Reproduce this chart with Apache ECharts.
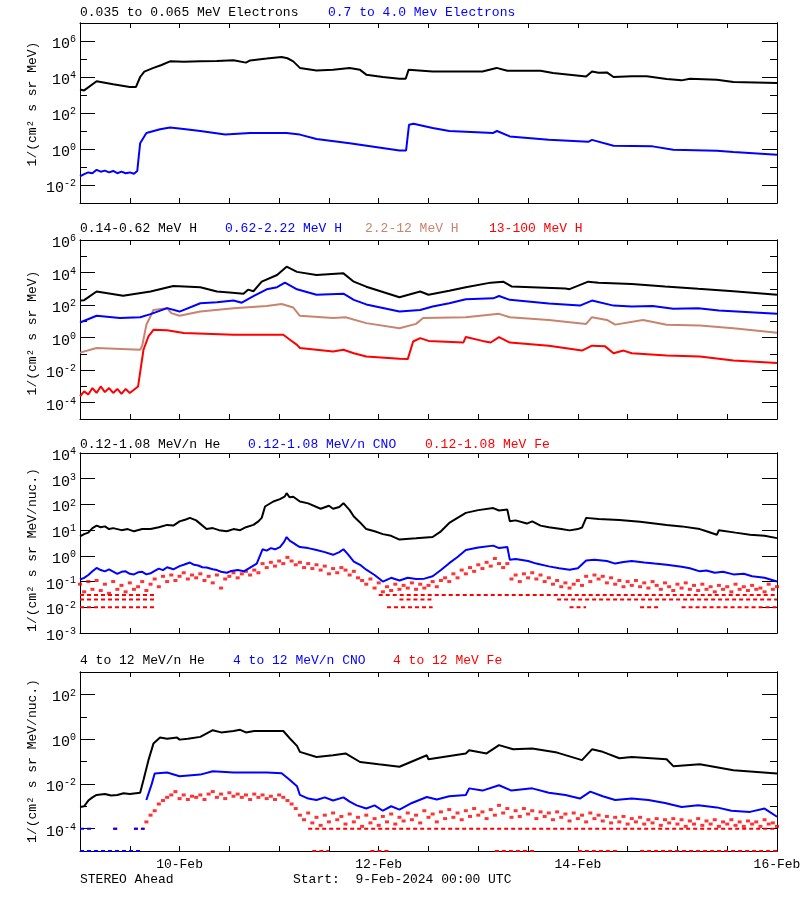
<!DOCTYPE html>
<html><head><meta charset="utf-8">
<script src="https://cdn.jsdelivr.net/npm/echarts@6/dist/echarts.min.js"></script>
<style>html,body{margin:0;padding:0;background:#fff}#c{width:800px;height:900px}</style>
</head><body><div id="c"></div>
<script>
// ---- tick labels (x in hours since 9-Feb-2024 00:00 UTC) ----
const dayTickHours = [24, 72, 120, 168];
const dayTickLabels = ['10-Feb', '12-Feb', '14-Feb', '16-Feb'];

// ---- Panel 1: electrons [hour, flux] ----
const elecLow = [[0,2.0e3],[1,1.8e3],[4,5.8e3],[8,4.0e3],[12,2.8e3],[13.5,2.8e3],[14.5,1.0e4],[15.5,2.0e4],[17.7,3.2e4],[19.5,4.5e4],[21.7,7.4e4],[25,7.0e4],[29,7.4e4],[33,7.8e4],[37,8.5e4],[40,6.3e4],[41,8.3e4],[45,1.05e5],[48.6,1.3e5],[50,1.1e5],[51.4,7.4e4],[53,3.2e4],[57,2.3e4],[61,2.5e4],[65,3.2e4],[67.5,2.5e4],[69,1.35e4],[73,1.0e4],[77,8.0e3],[78.5,8.0e3],[79.2,2.5e4],[85,2.0e4],[97,2.0e4],[100.4,3.2e4],[103,2.2e4],[111,2.2e4],[114,1.66e4],[122,1.07e4],[123.4,2.0e4],[125,1.7e4],[127,1.8e4],[128.6,1.0e4],[133,1.1e4],[136.6,1.1e4],[141.4,7.8e3],[145,6.5e3],[147,8.0e3],[153.5,7.1e3],[157.5,5.2e3],[168,4.7e3]];
const elecHigh = [[0,0.03],[1,0.04],[2,0.05],[3,0.045],[4,0.07],[5,0.055],[6,0.063],[7,0.05],[8,0.06],[9,0.045],[10,0.055],[11,0.045],[12,0.05],[13,0.042],[13.8,0.06],[14.5,2.1],[16,7.8],[19.3,12.6],[21.7,15.8],[25,13],[29,10],[35,6.3],[41,7.8],[49.8,7.8],[53,6.3],[57,3.6],[65,2.1],[77,0.83],[78.6,0.83],[79.3,22],[80.4,25],[85,14.8],[89,10],[99.6,7.8],[100.5,10],[103.6,5.0],[113,3.3],[122.5,2.5],[123.4,3.2],[128.6,1.5],[138,1.4],[143,0.91],[153.5,0.8],[157.5,0.68],[168,0.48]];

// ---- Panel 2: protons ----
const hLow = [[0,190],[1,200],[4,680],[10.4,380],[17,680],[22.5,1.5e3],[29,1.26e3],[33,680],[36,600],[39.4,500],[40.5,890],[41.8,710],[43.8,2.75e3],[47.5,7.1e3],[49.8,2.3e4],[52.3,1.1e4],[57,7.1e3],[63.5,8.9e3],[66,2.75e3],[69,1.35e3],[77,300],[82,680],[84,430],[89,760],[93,1.26e3],[99,2.4e3],[102,2.75e3],[104,1.4e3],[117,1.05e3],[118,950],[122.5,2.75e3],[125,2.4e3],[133,2.0e3],[141,1.4e3],[149,1.0e3],[157.5,720],[168,430]];
const hMid = [[0,8.5],[4,22],[9.6,16],[14.5,18],[17,28],[21,65],[24,40],[29,130],[33,150],[37,190],[39,140],[41.8,360],[45,930],[47.5,1.26e3],[49.4,2.4e3],[52.3,930],[57,430],[63.5,500],[66,210],[69,110],[77,40],[82,50],[85,81],[89,130],[93,230],[99.6,260],[101,360],[103.6,210],[113,126],[120.5,93],[123.4,190],[128.6,93],[133,81],[138,89],[143,59],[149,63],[154,46],[168,29]];
const hHigh = [[0,0.12],[4,0.23],[14.5,0.18],[15,0.32],[16,6.2],[17.7,50],[21,65],[22,32],[24,22],[29,40],[37,65],[45,89],[48.6,117],[51.4,71],[53,22],[61,16],[64,18],[69,7.8],[77,3.8],[81,7],[82.7,16],[93,18],[101,29],[103.6,18],[113,12.3],[122,7],[123.4,18],[127,12.3],[129,6.3],[135.7,12.3],[141.4,6.2],[149.4,5.6],[157.5,3.8],[168,2.0]];
const hTop = [[0,2.5e-4],[1,5e-4],[2,3.2e-4],[3,8e-4],[4,4e-4],[5,1e-3],[6,4.5e-4],[7,8e-4],[8,4e-4],[9,7e-4],[10,3.5e-4],[11,7e-4],[12,4e-4],[13,6.3e-4],[14,1e-3],[15.3,0.18],[16.5,1.2],[17.7,3.0],[21,2.8],[25,1.9],[37,1.5],[45,1.5],[49,1.5],[50.6,0.74],[52.3,0.36],[53,0.23],[61,0.14],[63.5,0.18],[66,0.11],[69,0.069],[77,0.05],[79,0.048],[80.3,0.58],[82,0.93],[84,0.63],[92.4,0.5],[93,1.1],[97,0.63],[99,0.5],[101,1.07],[103.6,0.5],[113,0.32],[121,0.16],[123.4,0.32],[126.5,0.3],[128.6,0.11],[131,0.16],[133,0.11],[141.4,0.08],[149.4,0.07],[157.5,0.04],[168,0.028]];

// ---- Panel 3: 0.12-1.08 MeV/n ions ----
const lowHe = [[0,5.7],[1,7],[2,8],[3,12],[4,15],[5,13],[6,14],[7,11],[8,12],[10,10],[11.5,11],[13,9],[15,11],[17,11],[19,13],[21,16],[22.5,15],[24,22],[25.5,26],[26.5,30],[28,24],[30.5,11],[32,12],[33.5,10],[35.4,9],[37,11],[38.6,10],[40,13],[41.8,16],[43,22],[43.8,30],[44.6,83],[46.6,130],[48.2,160],[49.3,200],[49.8,275],[50.5,190],[51.4,200],[53,130],[55,110],[58,68],[60,89],[61,68],[62.5,80],[63.5,112],[65,60],[66,34],[67.5,20],[69,11],[71,9],[73,7],[75,6],[77,4.3],[81,4.8],[85,5.4],[87,9],[89,19],[91,30],[93,47],[96,60],[99.6,72],[101,58],[103,63],[103.6,22],[105,24],[107.7,18],[109,22],[111,15],[113,13],[116,11],[118,9.8],[120,11],[121,12.6],[122,30],[125,27],[130,25],[135,21],[141.4,16],[145,14],[149.4,11],[151,9],[153.5,6.6],[154,10],[158,8],[161.5,6.6],[165,6],[168,4.9]];
const lowCNO = [[0,0.12],[1,0.14],[2,0.18],[3,0.25],[4,0.34],[5,0.28],[6,0.25],[7,0.3],[9,0.2],[10,0.24],[11,0.25],[12,0.2],[13,0.19],[14,0.23],[15,0.24],[16,0.19],[17,0.21],[18,0.26],[19,0.32],[20,0.28],[21,0.36],[22.5,0.3],[24,0.4],[25,0.45],[26.5,0.55],[27.5,0.45],[28.5,0.42],[29.5,0.36],[30.5,0.35],[32,0.3],[33,0.28],[34,0.24],[35.4,0.22],[36.5,0.26],[38,0.28],[39.5,0.25],[41,0.35],[42.6,0.5],[44,1.8],[45,1.6],[46,2.0],[47,1.8],[48.2,2.2],[49.2,3.5],[49.8,5.4],[50.6,3.8],[51.4,3.2],[52.2,2.6],[53,2.2],[55,2.0],[57,1.7],[59,1.4],[61,1.1],[62.5,1.4],[63.5,1.8],[64.5,1.2],[66,0.6],[67.5,0.45],[69,0.29],[71,0.18],[73,0.1],[75,0.14],[77,0.11],[79,0.14],[81,0.126],[83,0.13],[85,0.16],[87,0.28],[89,0.52],[91,0.9],[93,1.7],[96,2.1],[99.6,2.5],[101,2.0],[103,2.2],[103.6,0.7],[105,0.75],[108,0.63],[110,0.5],[113,0.39],[115.5,0.33],[118,0.29],[120,0.33],[122,0.66],[124,0.7],[127,0.63],[129,0.5],[131,0.58],[133,0.63],[136,0.55],[138.5,0.5],[141.4,0.45],[145,0.38],[147,0.33],[149.4,0.25],[151,0.27],[153,0.22],[155,0.24],[157.5,0.19],[160,0.2],[162,0.16],[165,0.14],[168,0.1]];
// hourly Fe values, hour 0..168
const lowFe = [0.079,0.04,0.1,0.05,0.11,0.045,0.079,0.035,0.1,0.05,0.071,0.04,0.089,0.05,0.063,0.1,0.045,0.079,0.126,0.063,
0.16,0.1,0.18,0.11,0.16,0.22,0.126,0.18,0.14,0.2,0.11,0.16,0.089,0.18,0.056,0.126,0.16,0.22,0.14,0.2,
0.25,0.18,0.28,0.22,0.5,0.35,0.56,0.4,0.63,0.5,0.87,0.63,0.45,0.56,0.35,0.5,0.32,0.45,0.28,0.4,
0.2,0.32,0.22,0.35,0.28,0.18,0.25,0.14,0.11,0.079,0.126,0.056,0.089,0.04,0.063,0.045,0.079,0.05,0.071,0.056,
0.089,0.05,0.079,0.056,0.071,0.1,0.063,0.11,0.14,0.1,0.2,0.14,0.28,0.2,0.35,0.25,0.45,0.32,0.56,0.4,
0.79,0.5,0.35,0.5,0.126,0.18,0.1,0.2,0.14,0.22,0.126,0.18,0.1,0.14,0.079,0.11,0.063,0.089,0.056,0.079,
0.11,0.071,0.16,0.1,0.18,0.126,0.16,0.089,0.14,0.079,0.11,0.063,0.1,0.071,0.11,0.063,0.089,0.056,0.1,0.071,
0.05,0.089,0.063,0.045,0.079,0.056,0.089,0.05,0.071,0.045,0.079,0.05,0.063,0.04,0.071,0.05,0.063,0.04,0.079,0.05,
0.063,0.045,0.071,0.05,0.056,0.04,0.079,0.05,0.063];
// quantised low-count levels [fromHour, toHour, flux]
const lowFeFloor = [[0,18.5,0.03],[72,168,0.03],[0,18,0.02],[77,85,0.02],[115,168,0.02],[0,18,0.01],[74,85,0.01],[118,122,0.01],[135,140,0.01],[145,168,0.01]];

// ---- Panel 4: 4-12 MeV/n ions ----
const hiHe = [[0,9.3e-4],[1,1e-3],[2,1.8e-3],[3,2.5e-3],[4,3.2e-3],[6,3.5e-3],[7.5,3.0e-3],[9,3.2e-3],[10.5,3.8e-3],[12,3.5e-3],[14.5,4e-3],[15.3,0.015],[16.5,0.115],[17.7,0.63],[19.3,1.17],[21,1.05],[23.4,1.17],[24,0.95],[26,1.05],[29,1.26],[32,2.5],[34,2.0],[37,2.3],[38.6,2.6],[40,2.0],[42,2.3],[45,2.3],[49,2.3],[50.6,1.07],[52.3,0.5],[53,0.27],[57,0.16],[61,0.19],[64,0.23],[67.5,0.095],[72,0.075],[77,0.058],[83.6,0.19],[84,0.126],[93,0.23],[93.8,0.32],[98,0.23],[101,0.54],[104.4,0.35],[109,0.38],[115,0.25],[121,0.115],[123.4,0.35],[126,0.27],[130,0.14],[133,0.16],[141.4,0.126],[143,0.062],[149.4,0.076],[157.5,0.041],[168,0.029]];
const hiCNO = [[16,1.9e-3],[17.3,0.01],[18,0.029],[21,0.032],[24,0.022],[29,0.026],[32,0.037],[37,0.032],[45,0.032],[48.6,0.03],[50.6,0.015],[52.3,7.9e-3],[53,3.2e-3],[55,2.2e-3],[57,1.9e-3],[59,2.5e-3],[61,1.8e-3],[63.5,2.5e-3],[65,1.6e-3],[66.7,1.1e-3],[69,7.9e-4],[71,1.1e-3],[73,6.3e-4],[75,1e-3],[77,7.1e-4],[80,1.4e-3],[83.6,2.6e-3],[86,2e-3],[89,2.8e-3],[93,3.2e-3],[93.8,6.3e-3],[97,5e-3],[101,8.7e-3],[104,5e-3],[109,6.3e-3],[113,4e-3],[117,3.2e-3],[120.5,2.2e-3],[123,4.5e-3],[126,2.8e-3],[129,1.9e-3],[133,2.2e-3],[137,1.9e-3],[141,1.4e-3],[145,9.3e-4],[149,1.1e-3],[153.5,8.9e-4],[157,6.3e-4],[161.5,5.6e-4],[165,7.9e-4],[168,3.4e-4]];
const hiCNOFloor = [[0,3,1e-4],[8,9,1e-4],[13,15.5,1e-4],[0,15,1e-5]];
// hourly Fe values, hour 16..168
const hiFeStart = 16;
const hiFe = [2.0e-4,4.0e-4,6.3e-4,1.26e-3,1.8e-3,2.5e-3,3.2e-3,4.5e-3,2.2e-3,3.2e-3,2.0e-3,2.8e-3,2.5e-3,3.2e-3,2.0e-3,3.5e-3,4.5e-3,2.5e-3,3.5e-3,2.2e-3,
4.0e-3,2.8e-3,3.5e-3,2.5e-3,3.2e-3,2.0e-3,3.5e-3,2.5e-3,3.2e-3,2.2e-3,2.8e-3,2.0e-3,3.2e-3,2.5e-3,1.8e-3,1.26e-3,7.9e-4,4.0e-4,2.5e-4,5.0e-4,
1.8e-4,3.2e-4,1.4e-4,4.0e-4,2.0e-4,5.0e-4,2.5e-4,3.5e-4,1.6e-4,4.5e-4,2.0e-4,3.2e-4,1.26e-4,4.0e-4,1.8e-4,2.8e-4,1.4e-4,3.5e-4,2.0e-4,4.5e-4,
1.6e-4,3.2e-4,2.2e-4,5.0e-4,2.5e-4,4.0e-4,1.8e-4,6.3e-4,3.2e-4,4.5e-4,2.0e-4,5.6e-4,2.8e-4,7.1e-4,3.2e-4,5.0e-4,2.5e-4,6.3e-4,3.5e-4,7.9e-4,
4.0e-4,5.6e-4,2.8e-4,7.1e-4,4.0e-4,1.1e-3,5.0e-4,7.9e-4,3.2e-4,6.3e-4,3.5e-4,7.9e-4,4.5e-4,6.3e-4,2.8e-4,5.6e-4,3.5e-4,5.0e-4,2.5e-4,5.6e-4,
3.2e-4,4.5e-4,2.2e-4,5.0e-4,2.8e-4,4.0e-4,2.0e-4,5.0e-4,2.8e-4,4.0e-4,2.2e-4,3.5e-4,1.8e-4,3.2e-4,2.0e-4,3.5e-4,1.6e-4,2.8e-4,2.0e-4,3.2e-4,
1.6e-4,2.5e-4,1.8e-4,2.8e-4,1.4e-4,2.5e-4,1.8e-4,2.8e-4,1.6e-4,2.5e-4,1.26e-4,2.2e-4,1.6e-4,2.8e-4,1.4e-4,2.2e-4,1.6e-4,2.5e-4,1.26e-4,2.0e-4,
1.6e-4,2.5e-4,1.4e-4,2.0e-4,1.26e-4,2.2e-4,1.6e-4,2.0e-4,1.26e-4,2.5e-4,1.6e-4,1.8e-4,1.26e-4];
const hiFeFloor = [[8,9,1e-4],[13,16,1e-4],[55,168,1e-4],[56,60,1e-5],[70,75,1e-5],[100,110,1e-5],[120,130,1e-5],[135,168,1e-5]];

// ---- texts ----
const panelTitles = [
  [['0.035 to 0.065 MeV Electrons', 80, '#000000'], ['0.7 to 4.0 Mev Electrons', 328, '#0000ff']],
  [['0.14-0.62 MeV H', 80, '#000000'], ['0.62-2.22 MeV H', 225, '#0000ff'], ['2.2-12 MeV H', 365, '#c8846e'], ['13-100 MeV H', 489, '#ff0000']],
  [['0.12-1.08 MeV/n He', 80, '#000000'], ['0.12-1.08 MeV/n CNO', 248, '#0000ff'], ['0.12-1.08 MeV Fe', 425, '#ff0000']],
  [['4 to 12 MeV/n He', 80, '#000000'], ['4 to 12 MeV/n CNO', 233, '#0000ff'], ['4 to 12 MeV Fe', 393, '#ff0000']]
];
const yNames = ['1/(cm² s sr MeV)', '1/(cm² s sr MeV)', '1/(cm² s sr MeV/nuc.)', '1/(cm² s sr MeV/nuc.)'];

// ---- layout ----
const FONT = 'Liberation Mono';
const gridBoxes = [{top:23,height:180},{top:240,height:179},{top:453,height:180},{top:672,height:179}];
const titleY = [13, 229, 445, 661];
const nameY = [104, 333, 550, 761];
const yRanges = [[1e-3,1e7],[1e-5,1e6],[1e-3,1e4],[1e-5,1e3]];
const yMajor = [[1e-2,1,1e2,1e4,1e6],[1e-4,1e-2,1,1e2,1e4,1e6],[1e-3,1e-2,1e-1,1,10,100,1e3,1e4],[1e-4,1e-2,1,1e2]];
const yMinor = [[1e-3,1e-1,10,1e3,1e5,1e7],[1e-5,1e-3,1e-1,10,1e3,1e5],[],[1e-5,1e-3,1e-1,10,1e3]];

const grid = gridBoxes.map(b => ({left:80, right:23, top:b.top, height:b.height, containLabel:false, outerBoundsMode:'none'}));
const xAxis = [], yAxis = [];
gridBoxes.forEach((b, i) => {
  ['bottom','top'].forEach(pos => {
    const lab = (i === 3 && pos === 'bottom');
    xAxis.push({
      type:'value', gridIndex:i, min:0, max:168, interval:12, position:pos,
      axisLine:{show:true, onZero:false, lineStyle:{color:'#000', width:1}},
      axisTick:{show:true, inside:true, length:5, lineStyle:{color:'#000', width:1}},
      axisLabel: lab ? {show:true, customValues:dayTickHours, showMaxLabel:true, showMinLabel:true, hideOverlap:false,
        formatter:v => dayTickLabels[dayTickHours.indexOf(v)] || '', fontFamily:FONT, fontSize:13, color:'#000', margin:7}
        : {show:false},
      splitLine:{show:false}
    });
  });
  const mk = (vals, len, pos, lab) => ({
    type:'log', logBase:10, gridIndex:i, min:yRanges[i][0], max:yRanges[i][1], position:pos,
    axisLine:{show:true, onZero:false, lineStyle:{color:'#000', width:1}},
    axisTick:{show:vals.length > 0, inside:true, length:len, customValues:vals, lineStyle:{color:'#000', width:1}},
    axisLabel: lab ? {show:true, customValues:vals, margin:4, padding:[6,0,0,0],
      formatter:v => '{b|10}{e|' + Math.round(Math.log10(v)) + '}',
      rich:{b:{fontFamily:FONT, fontSize:15, color:'#000'}, e:{fontFamily:FONT, fontSize:10, color:'#000', padding:[0,0,9,0]}}}
      : {show:false},
    splitLine:{show:false}, minorTick:{show:false}
  });
  yAxis.push(mk(yMajor[i], 15, 'left', true));
  yAxis.push(mk(yMinor[i], 7, 'left', false));
  yAxis.push(mk(yMajor[i], 15, 'right', false));
  yAxis.push(mk(yMinor[i], 7, 'right', false));
});

function lineS(g, data, color, w) {
  return {type:'line', xAxisIndex:2*g, yAxisIndex:4*g, data:data, showSymbol:false, symbol:'none',
    lineStyle:{color:color, width:w || 2}, itemStyle:{color:color}, silent:true, animation:false, z:3};
}
function floorS(g, segs, color) {
  const d = [];
  segs.forEach(s => { d.push([s[0], s[2]]); d.push([s[1], s[2]]); d.push(null); });
  return {type:'line', xAxisIndex:2*g, yAxisIndex:4*g, data:d, showSymbol:false, symbol:'none', connectNulls:false,
    lineStyle:{color:color, width:2, type:[4,3]}, silent:true, animation:false, z:2};
}
function scatS(g, data, color) {
  return {type:'scatter', xAxisIndex:2*g, yAxisIndex:4*g, data:data, symbol:'rect', symbolSize:[4,3],
    itemStyle:{color:color}, silent:true, animation:false, z:2};
}

const RED = '#ff0000', BLUE = '#0000ff', BLACK = '#000000', BROWN = '#c8846e';
const series = [
  lineS(0, elecLow, BLACK), lineS(0, elecHigh, BLUE),
  lineS(1, hTop, RED), lineS(1, hHigh, BROWN), lineS(1, hMid, BLUE), lineS(1, hLow, BLACK),
  floorS(2, lowFeFloor, RED), scatS(2, lowFe.map((v, k) => [k, v]), RED), lineS(2, lowCNO, BLUE), lineS(2, lowHe, BLACK),
  floorS(3, hiFeFloor, RED), scatS(3, hiFe.map((v, k) => [hiFeStart + k, v]), RED), floorS(3, hiCNOFloor, BLUE), lineS(3, hiCNO, BLUE), lineS(3, hiHe, BLACK)
];

const graphic = [];
panelTitles.forEach((row, i) => row.forEach(t => graphic.push({type:'text', left:t[1], top:titleY[i] - 7,
  style:{text:t[0], fill:t[2], font:'13px ' + FONT}})));
yNames.forEach((n, i) => graphic.push({type:'text', x:33, y:nameY[i], rotation:Math.PI/2,
  style:{text:n, fill:'#000', font:'13px ' + FONT, align:'center', verticalAlign:'middle'}}));
graphic.push({type:'text', left:80, top:873, style:{text:'STEREO Ahead', fill:'#000', font:'13px ' + FONT}});
graphic.push({type:'text', left:293, top:873, style:{text:'Start:  9-Feb-2024 00:00 UTC', fill:'#000', font:'13px ' + FONT}});

const chart = echarts.init(document.getElementById('c'), null, {renderer:'canvas'});
chart.setOption({backgroundColor:'#fff', animation:false, grid, xAxis, yAxis, series, graphic});
</script></body></html>
